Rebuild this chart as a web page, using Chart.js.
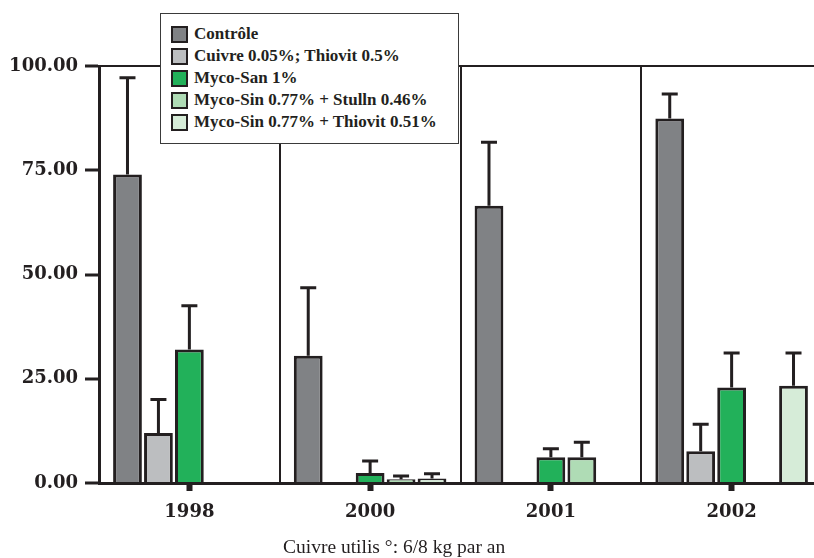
<!DOCTYPE html>
<html>
<head>
<meta charset="utf-8">
<script src="https://cdn.jsdelivr.net/npm/chart.js@4"></script>
<style>
    html, body { margin: 0; padding: 0; background: #fff; overflow: hidden; }
    #wrap { position: relative; width: 814px; height: 558px; overflow: hidden; }
    #graphique { position: absolute; left: 0; top: 0; }
    #legende {
        position: absolute; left: 160px; top: 13px; width: 299px; height: 131px;
        box-sizing: border-box; border: 1px solid #3a3a3a; background: #fff;
        padding-top: 9px; font: bold 17px "Liberation Serif", serif; color: #231f20;
    }
    #legende .item { display: flex; align-items: center; height: 22px; white-space: nowrap; }
    #legende .case {
        width: 17px; height: 17px; box-sizing: border-box; border: 2px solid #231f20;
        margin-left: 10px; margin-right: 6px;
    }
</style>
</head>
<body>
<div id="wrap">
    <canvas id="graphique" width="822" height="558"></canvas>
    <div id="legende"></div>
</div>
<script>
// Données
const annees = ["1998", "2000", "2001", "2002"];
const traitements = [
    "Contrôle",
    "Cuivre 0.05%; Thiovit 0.5%",
    "Myco-San 1%",
    "Myco-Sin 0.77% + Stulln 0.46%",
    "Myco-Sin 0.77% + Thiovit 0.51%"
];
const couleurs = ["#808285", "#bcbec0", "#22b15a", "#afdcb5", "#d6ecd8"];

// moyennes par traitement (une valeur par année)
const controle = [74.0, 30.5, 66.5, 87.4];
const cuivre = [12.0, null, null, 7.6];
const mycoSan = [32.0, 2.4, 6.2, 22.9];
const mycoSinStulln = [null, 0.9, 6.2, null];
const mycoSinThiovit = [null, 1.1, null, 23.3];

// écarts (barres d'erreur vers le haut)
const errControle = [23.2, 16.3, 15.2, 5.9];
const errCuivre = [8.0, null, null, 6.5];
const errMycoSan = [10.5, 2.9, 2.0, 8.3];
const errMycoSinStulln = [null, 0.8, 3.6, null];
const errMycoSinThiovit = [null, 1.1, null, 7.9];

const valeurs = [controle, cuivre, mycoSan, mycoSinStulln, mycoSinThiovit];
const erreurs = [errControle, errCuivre, errMycoSan, errMycoSinStulln, errMycoSinThiovit];

const yTicks = [0, 25, 50, 75, 100];
const titreX = "Cuivre utilis °: 6/8 kg par an";

const noir = "#231f20";

// Légende encadrée
const legende = document.getElementById("legende");
traitements.forEach(function(nom, i) {
    const item = document.createElement("div");
    item.className = "item";
    const c = document.createElement("span");
    c.className = "case";
    c.style.background = couleurs[i];
    const t = document.createElement("span");
    t.textContent = nom;
    item.appendChild(c);
    item.appendChild(t);
    legende.appendChild(item);
});

// Barres d'erreur
const barresErreur = {
    id: "barresErreur",
    afterDatasetsDraw: function(chart) {
        const ctx = chart.ctx;
        const y = chart.scales.y;
        ctx.save();
        ctx.strokeStyle = noir;
        ctx.lineWidth = 3;
        chart.data.datasets.forEach(function(ds, i) {
            const meta = chart.getDatasetMeta(i);
            meta.data.forEach(function(bar, j) {
                const v = ds.data[j];
                const e = erreurs[i][j];
                if (v === null || e === null) return;
                const yHaut = y.getPixelForValue(v + e);
                ctx.beginPath();
                ctx.moveTo(bar.x, bar.y);
                ctx.lineTo(bar.x, yHaut);
                ctx.moveTo(bar.x - 8, yHaut);
                ctx.lineTo(bar.x + 8, yHaut);
                ctx.stroke();
            });
        });
        ctx.restore();
    }
};

// Titre de l'axe X
const titreAxe = {
    id: "titreAxe",
    afterDraw: function(chart) {
        const ctx = chart.ctx;
        ctx.save();
        ctx.font = '19.5px "Liberation Serif", serif';
        ctx.fillStyle = noir;
        ctx.textAlign = "left";
        ctx.textBaseline = "alphabetic";
        ctx.fillText(titreX, 283, 553);
        ctx.restore();
    }
};

const contexte = document.getElementById("graphique").getContext("2d");

const graphique = new Chart(contexte, {
    type: "bar",
    data: {
        labels: annees,
        datasets: traitements.map(function(nom, i) {
            return {
                label: nom,
                data: valeurs[i],
                backgroundColor: couleurs[i],
                borderColor: noir,
                borderWidth: 3,
                categoryPercentage: 0.856,
                barPercentage: 0.93
            };
        })
    },
    options: {
        responsive: false,
        animation: false,
        layout: { padding: { top: 66, left: 0, right: 0, bottom: 0 } },
        plugins: {
            legend: { display: false },
            tooltip: { enabled: false }
        },
        scales: {
            x: {
                offset: true,
                grid: {
                    offset: false,
                    color: "transparent",
                    tickColor: noir,
                    tickLength: 8,
                    tickWidth: 6
                },
                border: { color: noir, width: 3 },
                ticks: {
                    color: noir,
                    padding: 11,
                    font: { family: "DejaVu Serif", size: 18, weight: "bold" }
                },
                afterFit: function(s) { s.height = 75; }
            },
            // lignes de séparation entre les années
            xSep: {
                type: "category",
                position: "top",
                offset: true,
                grid: {
                    offset: true,
                    color: noir,
                    lineWidth: 2,
                    drawTicks: false
                },
                border: { display: false },
                ticks: { display: false },
                afterFit: function(s) { s.height = 0; }
            },
            y: {
                min: 0,
                max: 100,
                afterBuildTicks: function(s) {
                    s.ticks = yTicks.map(function(v) { return { value: v }; });
                },
                grid: {
                    color: function(c) {
                        return c.tick && c.tick.value === 100 ? noir : "transparent";
                    },
                    lineWidth: 2,
                    tickColor: noir,
                    tickLength: 14,
                    tickWidth: 3
                },
                border: { color: noir, width: 3 },
                ticks: {
                    color: noir,
                    padding: 7,
                    font: { family: "DejaVu Serif", size: 18, weight: "bold" },
                    callback: function(v) { return Number(v).toFixed(2); }
                },
                afterFit: function(s) { s.width = 99; }
            }
        }
    },
    plugins: [barresErreur, titreAxe]
});
</script>
</body>
</html>
